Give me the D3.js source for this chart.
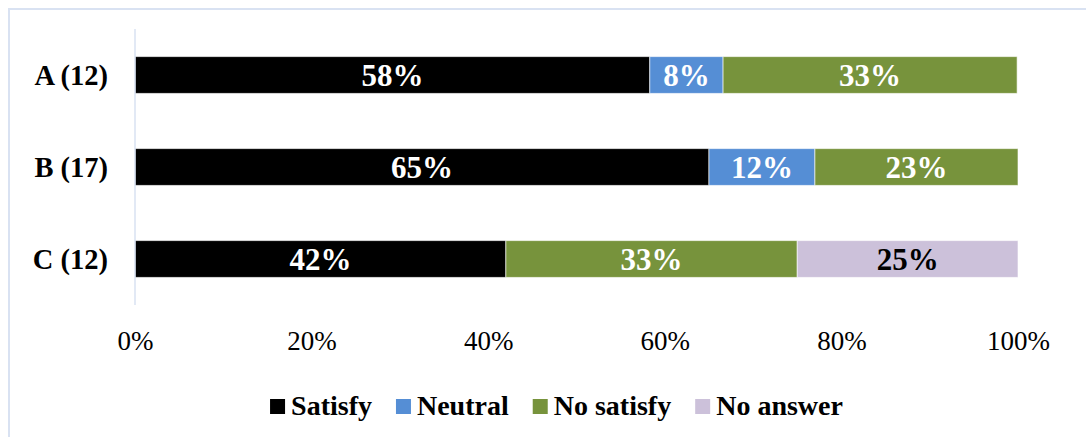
<!DOCTYPE html>
<html>
<head>
<meta charset="utf-8">
<script src="https://cdn.jsdelivr.net/npm/d3@7"></script>
<style>
  html, body { margin: 0; padding: 0; background: #fff; }
  svg { display: block; }
</style>
</head>
<body>
<svg id="chart" width="1086" height="437"></svg>
<script>
const categories = ["A (12)", "B (17)", "C (12)"];
const seriesNames = ["Satisfy", "Neutral", "No satisfy", "No answer"];
const seriesColors = ["#000000", "#558ed5", "#77933c", "#ccc1da"];
const labelColors = ["#ffffff", "#ffffff", "#ffffff", "#000000"];
const satisfy   = [58.3, 65, 42];
const neutral   = [8.3, 12, 0];
const noSatisfy = [33.3, 23, 33];
const noAnswer  = [0, 0, 25];
const tickValues = [0, 20, 40, 60, 80, 100];
const tickLabels = ["0%", "20%", "40%", "60%", "80%", "100%"];

const svg = d3.select("#chart");
const W = 1086, H = 437;
const plotLeft = 135, plotRight = 1018;

// frame
svg.append("rect").attr("x", 9).attr("y", 9).attr("width", W + 20).attr("height", H + 20)
  .attr("fill", "#fff").attr("stroke", "#d9e2f2").attr("stroke-width", 2);

const x = d3.scaleLinear().domain([0, 100]).range([plotLeft, plotRight]);
const y = d3.scaleBand().domain(categories).range([29, 305]).paddingInner(0.6).paddingOuter(0.3);

const seriesData = [satisfy, neutral, noSatisfy, noAnswer];
const rows = categories.map((c, i) => {
  const r = { cat: c };
  seriesNames.forEach((s, j) => r[s] = seriesData[j][i]);
  return r;
});
const stacked = d3.stack().keys(seriesNames)(rows);

const g = svg.append("g");
stacked.forEach((layer, j) => {
  layer.forEach(d => {
    const v = d[1] - d[0];
    if (v <= 0) return;
    g.append("rect")
      .attr("x", x(d[0]))
      .attr("y", y(d.data.cat))
      .attr("width", x(d[1]) - x(d[0]))
      .attr("height", y.bandwidth())
      .attr("fill", seriesColors[j])
      .attr("stroke", "#ffffff")
      .attr("stroke-opacity", 0.6)
      .attr("stroke-width", 1);
    g.append("text")
      .attr("x", (x(d[0]) + x(d[1])) / 2)
      .attr("y", y(d.data.cat) + y.bandwidth() / 2 + 11)
      .attr("text-anchor", "middle")
      .attr("font-family", "'Liberation Serif', 'Times New Roman', serif")
      .attr("font-weight", "bold")
      .attr("font-size", 31)
      .attr("fill", labelColors[j])
      .text(Math.round(v) + "%");
  });
});

// y axis line
svg.append("line").attr("x1", plotLeft).attr("x2", plotLeft)
  .attr("y1", 29).attr("y2", 305).attr("stroke", "#d9e2f2").attr("stroke-width", 1.5);

// category labels
const yAxis = d3.axisLeft(y).tickSize(0).tickPadding(27);
const yg = svg.append("g").attr("transform", `translate(${plotLeft},0)`).call(yAxis);
yg.select(".domain").remove();
yg.selectAll("text")
  .attr("font-family", "'Liberation Serif', 'Times New Roman', serif")
  .attr("font-weight", "bold")
  .attr("font-size", 28.5)
  .attr("fill", "#000")
  .attr("dy", "0.35em");

// x axis tick labels
const xAxis = d3.axisBottom(x).tickValues(tickValues).tickFormat((d, i) => tickLabels[i]).tickSize(0).tickPadding(0);
const xg = svg.append("g").attr("transform", `translate(0,350)`).call(xAxis);
xg.select(".domain").remove();
xg.selectAll("text")
  .attr("font-family", "'Liberation Serif', 'Times New Roman', serif")
  .attr("font-size", 27)
  .attr("fill", "#000")
  .attr("dy", 0)
  .attr("y", 0);

// legend
const legend = svg.append("g");
let lx = 0;
const gap = 24;
seriesNames.forEach((s, j) => {
  const it = legend.append("g");
  it.append("rect").attr("x", 0).attr("y", -16).attr("width", 15).attr("height", 15).attr("fill", seriesColors[j]);
  const t = it.append("text").attr("x", 21).attr("y", 0)
    .attr("font-family", "'Liberation Serif', 'Times New Roman', serif")
    .attr("font-weight", "bold").attr("font-size", 28).attr("fill", "#000").text(s);
  const w = 21 + t.node().getComputedTextLength();
  it.attr("transform", `translate(${lx},0)`);
  lx += w + gap;
});
const totalW = lx - gap;
legend.attr("transform", `translate(${556.5 - totalW / 2},415)`);
</script>
</body>
</html>
